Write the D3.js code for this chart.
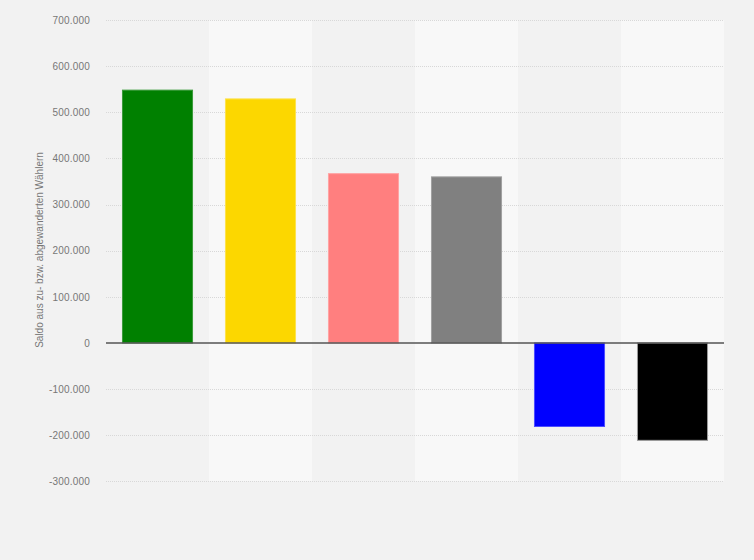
<!DOCTYPE html>
<html>
<head>
<meta charset="utf-8">
<script src="https://cdn.jsdelivr.net/npm/d3@7"></script>
<style>
html,body{margin:0;padding:0;background:#f2f2f2;}
svg{display:block;font-family:"Liberation Sans",Arial,sans-serif;}
</style>
</head>
<body>
<svg id="chart" width="754" height="560"></svg>
<script>
const categories = ["Grüne", "FDP", "Die Linke", "Andere", "AfD", "CDU/CSU"];
const values = [548000, 529000, 367000, 360000, -181000, -211000];
const colors = ["#008000", "#fcd700", "#ff7f7f", "#808080", "#0000ff", "#000000"];
const strokes = ["#3a9a3a", "#fde24d", "#ffa3a3", "#a0a0a0", "#4d4dff", "#9a9a9a"];
const tickValues = [-300000, -200000, -100000, 0, 100000, 200000, 300000, 400000, 500000, 600000, 700000];
const yLabel = "Saldo aus zu- bzw. abgewanderten Wählern";

const svg = d3.select("#chart");
const plotLeft = 106, plotRight = 724, plotTop = 20, plotBottom = 481.4;

const y = d3.scaleLinear().domain([-300000, 700000]).range([plotBottom, plotTop]);
const xStripe = d3.scaleBand().domain(categories).range([plotLeft, plotRight]).padding(0);
const x = d3.scaleBand().domain(categories).range([plotLeft, plotRight]).paddingInner(0.31).paddingOuter(0.155);

// stripes
svg.append("g").selectAll("rect").data(categories).join("rect")
  .attr("x", d => xStripe(d))
  .attr("y", y(700000))
  .attr("width", xStripe.bandwidth())
  .attr("height", y(-300000) - y(700000))
  .attr("fill", (d, i) => i % 2 === 1 ? "#f8f8f8" : "#f2f2f2");

// gridlines
svg.append("g").selectAll("line").data(tickValues.filter(t => t !== 0)).join("line")
  .attr("x1", plotLeft).attr("x2", plotRight)
  .attr("y1", d => Math.round(y(d)) + 0.5).attr("y2", d => Math.round(y(d)) + 0.5)
  .attr("stroke", "#d8d8d8").attr("stroke-width", 1).attr("stroke-dasharray", "1,1");

// y axis
const fmt = v => v === 0 ? "0" : d3.format(",")(v).replace(/,/g, ".").replace("−", "-");
const yAxis = d3.axisLeft(y).tickValues(tickValues).tickSize(0).tickPadding(0).tickFormat(fmt);
const ga = svg.append("g").attr("transform", `translate(90,0)`).call(yAxis);
ga.select(".domain").remove();
ga.selectAll("text").attr("fill", "#777").attr("font-size", "10px")
  .attr("letter-spacing", "0.2px")
  .attr("font-family", "Liberation Sans, Arial, sans-serif");

// bars
svg.append("g").selectAll("rect").data(values).join("rect")
  .attr("x", (d, i) => x(categories[i]) + 0.5)
  .attr("y", d => y(Math.max(0, d)))
  .attr("width", x.bandwidth() - 1)
  .attr("height", d => Math.abs(y(d) - y(0)))
  .attr("fill", (d, i) => colors[i])
  .attr("stroke", (d, i) => strokes[i])
  .attr("stroke-width", 1);

// zero line
svg.append("line")
  .attr("x1", plotLeft).attr("x2", plotRight)
  .attr("y1", y(0)).attr("y2", y(0))
  .attr("stroke", "#555").attr("stroke-width", 1.5);

// y label
svg.append("text")
  .attr("transform", `translate(43,${(155 + 345) / 2}) rotate(-90)`)
  .attr("text-anchor", "middle")
  .attr("fill", "#777")
  .attr("font-size", "10px")
  .text(yLabel);
</script>
</body>
</html>
